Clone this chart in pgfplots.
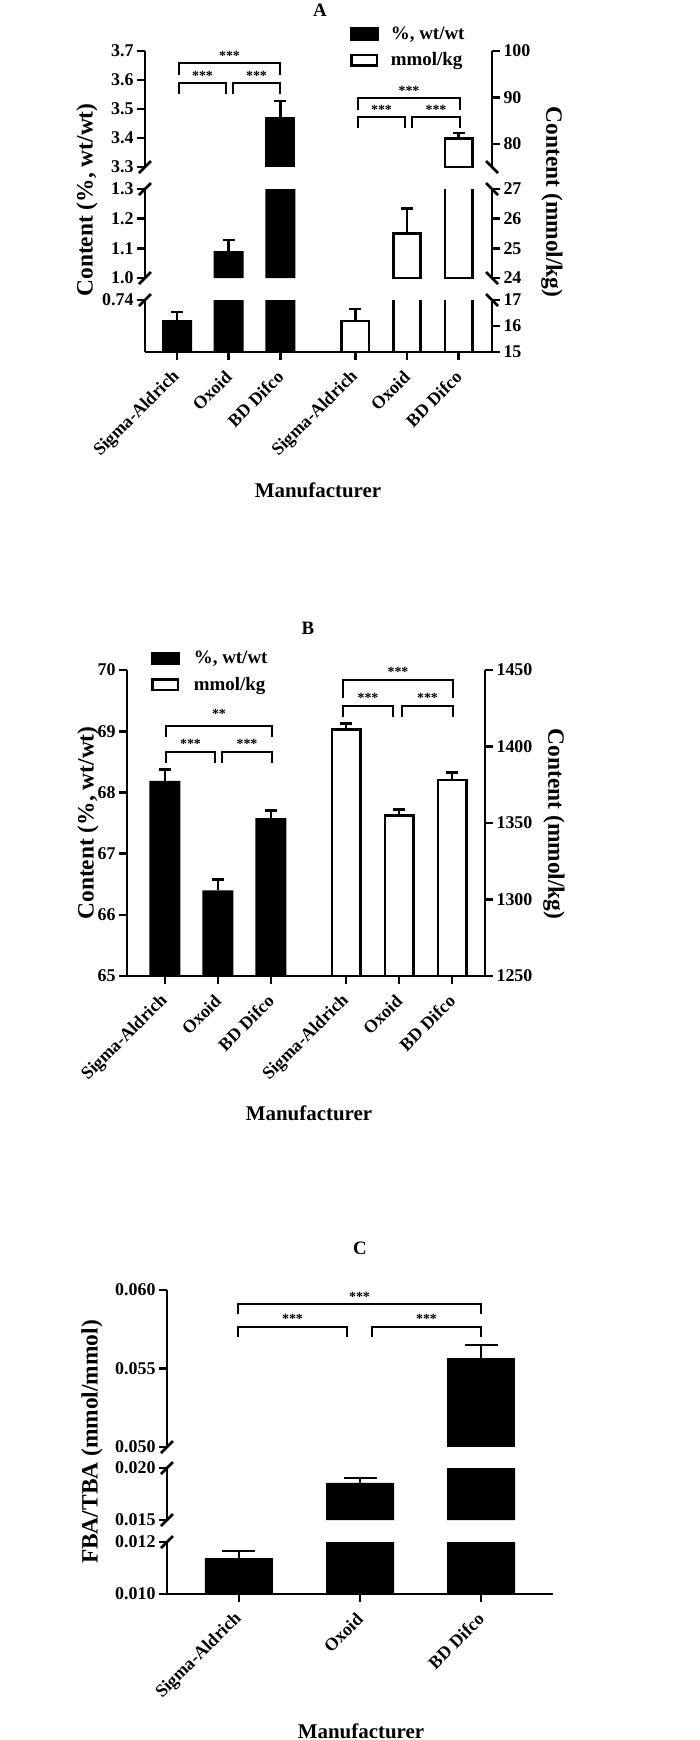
\documentclass[border=0pt]{standalone}
\usepackage{fontspec}
\setmainfont{Liberation Serif}
\usepackage{pgfplots}
\usepackage{pgfplotstable}
\pgfplotsset{compat=1.18}

\newcommand\fT{\fontsize{18}{18}\selectfont\bfseries}
\newcommand\fL{\fontsize{23.5}{23.5}\selectfont\bfseries}
\newcommand\fM{\fontsize{21}{21}\selectfont\bfseries}
\newcommand\fS{\fontsize{14}{14}\selectfont\bfseries}
\newcommand\fG{\fontsize{19}{19}\selectfont\bfseries}
\newcommand\fH{\fontsize{19}{19}\selectfont\bfseries}

% Panel A: % wt/wt (left scale) and mmol/kg (right scale)
\pgfplotstableread{
x y e
1 0.7246 0.0062
2 1.091 0.037
3 3.473 0.055
}\Apct
\pgfplotstableread{
x y e
4.45 16.2 0.45
5.45 25.5 0.85
6.45 81.2 1.1
}\Ammol
% Panel B
\pgfplotstableread{
x y e
1 68.19 0.18
2 66.40 0.18
3 67.58 0.12
}\Bpct
\pgfplotstableread{
x y e
4.42 1411 4
5.42 1355 4
6.42 1378 5
}\Bmmol
% Panel C
\pgfplotstableread{
x y e
1 0.01138 0.00027
2 0.01856 0.00048
3 0.05567 0.00083
}\Cratio

\pgfplotsset{
  seg/.style={scale only axis, clip=true, anchor=south west,
    axis line style={-, line width=2.6bp, black},
    major tick style={line width=2.6bp, black},
    tick align=outside, major tick length=8bp,
    tick label style={font=\fT},
    scaled y ticks=false,
  },
  Ax/.style={xmin=0.381, xmax=7.093, width=347bp},
  Bx/.style={xmin=0.283, xmax=7.04, width=358bp},
  Cx/.style={xmin=0.405, xmax=3.595, width=386bp},
  xlab/.style={axis x line*=bottom, xticklabel shift=14bp,
    xticklabel style={rotate=45, anchor=east, font=\fT, inner sep=0pt}},
  blackbar/.style n args={2}{ybar, bar shift=0pt, bar width=#1, fill=black, draw=none,
    error bars/y dir=plus, error bars/y explicit,
    error bars/error bar style={line width=2.6bp, black, solid},
    error bars/error mark options={rotate=90, mark size=#2, line width=2.6bp, black}},
  whitebar/.style n args={2}{ybar, bar shift=0pt, bar width=#1, fill=white, draw=black, line width=2.6bp,
    error bars/y dir=plus, error bars/y explicit,
    error bars/error bar style={line width=2.6bp, black, solid},
    error bars/error mark options={rotate=90, mark size=#2, line width=2.6bp, black}},
  mylegend/.style={legend cell align=left,
    legend style={draw=none, fill=none, inner sep=0pt, outer sep=0pt, font=\fG,
      row sep=9bp, nodes={inner sep=1.5bp}}},
}

\newcommand\brk[6]{%
  \draw[line width=2.6bp] (#1bp,-#4bp) -- (#1bp,-#3bp) -- (#2bp,-#3bp) -- (#2bp,-#4bp);
  \node[font=\fS, inner sep=0pt] at ({(#1+#2)*0.5bp},-#5bp) {#6};}
\newcommand\bl[2]{\draw[line width=2.6bp] (#1bp-6bp,-#2bp-6bp) -- (#1bp+6bp,-#2bp+6bp);}
\newcommand\br[2]{\draw[line width=2.6bp] (#1bp-6bp,-#2bp+6bp) -- (#1bp+6bp,-#2bp-6bp);}

\begin{document}
\begin{tikzpicture}
\path[use as bounding box] (0,0) rectangle (700bp,-1740bp);

%%%%%%%%%%%%%%%% PANEL A %%%%%%%%%%%%%%%%
% top segment
\begin{axis}[seg, Ax, at={(145bp,-167bp)}, height=116bp, ymin=75, ymax=100,
  axis x line=none, axis y line*=right, ytick={80,90,100}, yticklabels={80,90,100}]
\addplot[restrict y to domain=75:10000, whitebar={27.4bp}{6bp}] table[x=x,y=y,y error=e] {\Ammol};
\end{axis}
\begin{axis}[seg, Ax, mylegend, at={(145bp,-167bp)}, height=116bp, ymin=3.3, ymax=3.7,
  axis x line=none, axis y line*=left, ytick={3.3,3.4,3.5,3.6,3.7}, yticklabels={3.3,3.4,3.5,3.6,3.7},
  legend style={at={(0.5908,1.222)}, anchor=north west}]
\addplot[forget plot, restrict y to domain=3.3:1000, blackbar={30bp}{6bp}] table[x=x,y=y,y error=e] {\Apct};
\addlegendimage{legend image code/.code={\fill[black] (0bp,-6.25bp) rectangle (28bp,6.25bp); \path (39bp,0bp);}}
\addlegendentry{\%, wt/wt}
\addlegendimage{legend image code/.code={\draw[black, line width=2.6bp] (1.3bp,-5.1bp) rectangle (26.7bp,5.1bp); \path (39bp,0bp);}}
\addlegendentry{mmol/kg}
\end{axis}
% middle segment
\begin{axis}[seg, Ax, at={(145bp,-278bp)}, height=89bp, ymin=24, ymax=27,
  axis x line=none, axis y line*=right, ytick={24,25,26,27}, yticklabels={24,25,26,27}]
\addplot[restrict y to domain=24:10000, whitebar={27.4bp}{6bp}] table[x=x,y=y,y error=e] {\Ammol};
\end{axis}
\begin{axis}[seg, Ax, at={(145bp,-278bp)}, height=89bp, ymin=1.0, ymax=1.3,
  axis x line=none, axis y line*=left, ytick={1.0,1.1,1.2,1.3}, yticklabels={1.0,1.1,1.2,1.3}]
\addplot[restrict y to domain=1.0:1000, blackbar={30bp}{6bp}] table[x=x,y=y,y error=e] {\Apct};
\end{axis}
% bottom segment
\begin{axis}[seg, Ax, at={(145bp,-352bp)}, height=52bp, ymin=15, ymax=17,
  axis x line=none, axis y line*=right, ytick={15,16,17}, yticklabels={15,16,17}]
\addplot[whitebar={27.4bp}{6bp}] table[x=x,y=y,y error=e] {\Ammol};
\end{axis}
\begin{axis}[seg, Ax, xlab, at={(145bp,-352bp)}, height=52bp, ymin=0.70, ymax=0.74,
  axis y line*=left, ytick={0.74}, yticklabels={0.74},
  xtick={1,2,3,4.45,5.45,6.45},
  xticklabels={Sigma-Aldrich,Oxoid,BD Difco,Sigma-Aldrich,Oxoid,BD Difco}]
\addplot[blackbar={30bp}{6bp}] table[x=x,y=y,y error=e] {\Apct};
\end{axis}
% breaks
\bl{145}{167}\bl{145}{189}\bl{145}{278}\bl{145}{300}
\br{492}{167}\br{492}{189}\br{492}{278}\br{492}{300}
% brackets
\brk{179}{280}{63}{75}{56}{***}
\brk{179}{226}{83}{94}{76}{***}
\brk{233}{280}{83}{94}{76}{***}
\brk{358}{460}{98}{110}{91}{***}
\brk{358}{405}{117}{128}{110}{***}
\brk{412}{460}{117}{128}{110}{***}
% labels
\node[font=\fH] at (320bp,-10bp) {A};
\node[font=\fL, rotate=90] at (87bp,-200bp) {Content (\%, wt/wt)};
\node[font=\fL, rotate=-90] at (552bp,-202bp) {Content (mmol/kg)};
\node[font=\fM] at (318bp,-490bp) {Manufacturer};

%%%%%%%%%%%%%%%% PANEL B %%%%%%%%%%%%%%%%
\begin{axis}[seg, Bx, at={(127bp,-976bp)}, height=306bp, ymin=1250, ymax=1450,
  axis x line=none, axis y line*=right, ytick={1250,1300,1350,1400,1450},
  yticklabels={1250,1300,1350,1400,1450}]
\addplot[whitebar={28.4bp}{6bp}] table[x=x,y=y,y error=e] {\Bmmol};
\end{axis}
\begin{axis}[seg, Bx, xlab, mylegend, at={(127bp,-976bp)}, height=306bp, ymin=65, ymax=70,
  axis y line*=left, ytick={65,66,67,68,69,70}, yticklabels={65,66,67,68,69,70},
  xtick={1,2,3,4.42,5.42,6.42},
  xticklabels={Sigma-Aldrich,Oxoid,BD Difco,Sigma-Aldrich,Oxoid,BD Difco},
  legend style={at={(0.067,1.066)}, anchor=north west}]
\addplot[forget plot, blackbar={31bp}{6bp}] table[x=x,y=y,y error=e] {\Bpct};
\addlegendimage{legend image code/.code={\fill[black] (0bp,-6.25bp) rectangle (28bp,6.25bp); \path (41bp,0bp);}}
\addlegendentry{\%, wt/wt}
\addlegendimage{legend image code/.code={\draw[black, line width=2.6bp] (1.3bp,-5.1bp) rectangle (26.7bp,5.1bp); \path (41bp,0bp);}}
\addlegendentry{mmol/kg}
\end{axis}
\brk{166}{272}{726}{737}{714}{**}
\brk{166}{215}{752}{763}{744}{***}
\brk{222}{272}{752}{763}{744}{***}
\brk{343}{453}{680}{698}{672}{***}
\brk{343}{393}{706}{717}{698}{***}
\brk{402}{453}{706}{717}{698}{***}
\node[font=\fH] at (308bp,-628bp) {B};
\node[font=\fL, rotate=90] at (88bp,-823bp) {Content (\%, wt/wt)};
\node[font=\fL, rotate=-90] at (554bp,-824bp) {Content (mmol/kg)};
\node[font=\fM] at (309bp,-1113bp) {Manufacturer};

%%%%%%%%%%%%%%%% PANEL C %%%%%%%%%%%%%%%%
\begin{axis}[seg, Cx, at={(167bp,-1447bp)}, height=157bp, ymin=0.050, ymax=0.060,
  axis x line=none, axis y line*=left, ytick={0.050,0.055,0.060}, yticklabels={0.050,0.055,0.060}]
\addplot[restrict y to domain=0.05:1, blackbar={68bp}{16.5bp}] table[x=x,y=y,y error=e] {\Cratio};
\end{axis}
\begin{axis}[seg, Cx, at={(167bp,-1520bp)}, height=52bp, ymin=0.015, ymax=0.020,
  axis x line=none, axis y line*=left, ytick={0.015,0.020}, yticklabels={0.015,0.020}]
\addplot[restrict y to domain=0.015:1, blackbar={68bp}{16.5bp}] table[x=x,y=y,y error=e] {\Cratio};
\end{axis}
\begin{axis}[seg, Cx, xlab, at={(167bp,-1594bp)}, height=52bp, ymin=0.010, ymax=0.012,
  axis y line*=left, ytick={0.010,0.012}, yticklabels={0.010,0.012},
  xtick={1,2,3}, xticklabels={Sigma-Aldrich,Oxoid,BD Difco}]
\addplot[blackbar={68bp}{16.5bp}] table[x=x,y=y,y error=e] {\Cratio};
\end{axis}
\bl{167}{1447}\bl{167}{1468}\bl{167}{1520}\bl{167}{1542}
\brk{238}{481}{1304}{1314}{1297}{***}
\brk{238}{347}{1327}{1337}{1319}{***}
\brk{372}{481}{1327}{1337}{1319}{***}
\node[font=\fH] at (360bp,-1248bp) {C};
\node[font=\fL, rotate=90] at (92bp,-1442bp) {FBA/TBA (mmol/mmol)};
\node[font=\fM] at (361bp,-1731bp) {Manufacturer};
\end{tikzpicture}
\end{document}
